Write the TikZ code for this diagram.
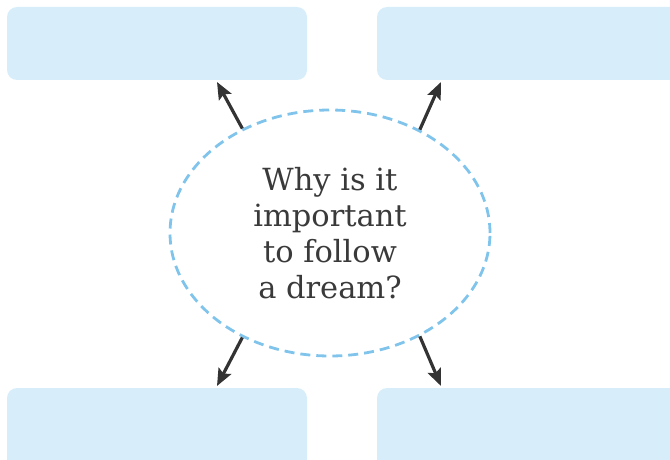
\documentclass[tikz,border=0pt]{standalone}
\usepackage{fontspec}
\setmainfont{DejaVu Serif}
\usetikzlibrary{arrows.meta,shapes.geometric}
\definecolor{boxfill}{HTML}{D7EEFA}
\definecolor{dashcol}{HTML}{80C4EC}
\definecolor{arrowcol}{HTML}{333333}
\definecolor{textcol}{HTML}{3A3A3A}
\tikzset{
  answerbox/.style={fill=boxfill, draw=none, rounded corners=10pt},
  bubble/.style={ellipse, draw=dashcol, line width=2.8pt, dash pattern=on 10pt off 6pt,
    minimum width=320pt, minimum height=246pt, inner sep=0pt, text=textcol,
    align=center, font=\fontsize{30.5}{36}\selectfont},
  pointer/.style={draw=arrowcol, line width=3.2pt, -{Stealth[length=17pt,width=14pt,inset=3pt]}}
}
\begin{document}
\begin{tikzpicture}[x=1pt,y=-1pt]
\useasboundingbox (0,0) rectangle (670,460);
\begin{scope}
\clip (0,0) rectangle (670,460);
\fill[answerbox] (7,7) rectangle (307,80);
\fill[answerbox] (377,7) rectangle (690,80);
\fill[answerbox] (7,388) rectangle (307,480);
\fill[answerbox] (377,388) rectangle (690,480);
\end{scope}
\node[bubble] (q) at (330,233) {Why is it\\important\\to follow\\a dream?};
\coordinate (tl) at (217,82);
\coordinate (tr) at (441,82);
\coordinate (bl) at (217,386);
\coordinate (br) at (441,386);
\draw[pointer] (q.130.5) -- (tl);
\draw[pointer] (q.49.5) -- (tr);
\draw[pointer] (q.-130.5) -- (bl);
\draw[pointer] (q.-49.5) -- (br);
\end{tikzpicture}
\end{document}
